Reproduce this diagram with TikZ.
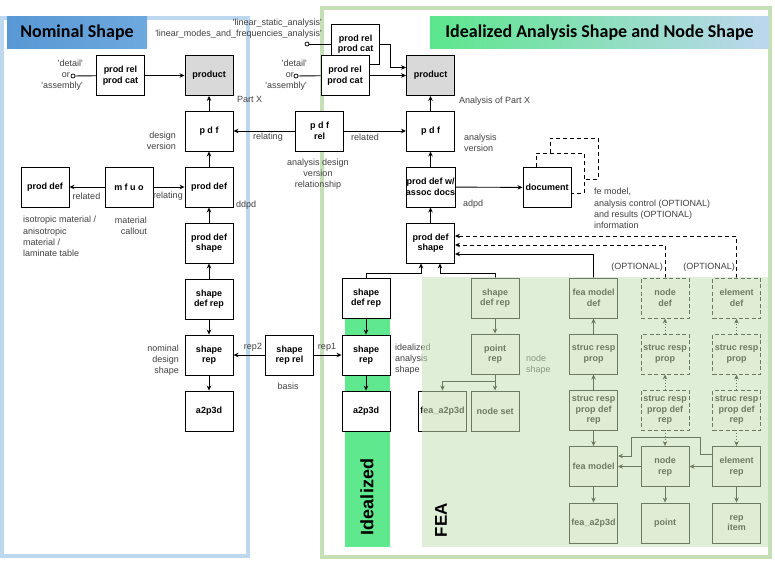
\documentclass[tikz,border=0pt]{standalone}
\usepackage{fontspec}
\setmainfont{Liberation Sans}
\newfontfamily\titlefont{Carlito}
\usetikzlibrary{arrows.meta}
\definecolor{nomblue}{RGB}{189,215,238}
\definecolor{nomtitle}{RGB}{88,152,212}
\definecolor{nomtitleb}{RGB}{110,168,222}
\definecolor{idgreen}{RGB}{197,224,180}
\definecolor{idtitle}{RGB}{92,230,140}
\definecolor{idcol}{RGB}{96,232,142}
\definecolor{feagreen}{RGB}{197,224,180}
\definecolor{prodgray}{RGB}{217,217,217}
\definecolor{lblgray}{RGB}{64,64,64}
\newcommand{\qt}[1]{\textquotesingle#1\textquotesingle}

\begin{document}
\begin{tikzpicture}[x=1pt,y=-1pt,
	box/.style={draw, line width=0.9pt, fill=white, minimum width=48pt, minimum height=40pt, inner sep=1pt, align=center, font=\fontsize{9}{10.5}\selectfont\bfseries},
	gbox/.style={box, fill=prodgray},
	dbox/.style={box, dash pattern=on 4pt off 2.5pt},
	lbl/.style={inner sep=0pt, text=lblgray, font=\fontsize{9}{11.2}\selectfont},
	arr/.style={-{Stealth[length=5pt,width=4.5pt]}, line width=0.9pt},
	darr/.style={arr, dotted},
	dline/.style={line width=0.9pt, dash pattern=on 4pt off 3pt},
	dotc/.style={circle, draw, fill=white, line width=0.7pt, inner sep=0pt, minimum size=4pt},
	ttl/.style={inner sep=0pt, minimum height=32pt, font=\titlefont\fontsize{18}{20}\selectfont\bfseries}]
	\useasboundingbox (0,0) rectangle (775,564);
	\draw [line width=4pt, nomblue] (2,18) rectangle (248,556);
	\draw [line width=4pt, idgreen] (322,8) rectangle (770,557);
	\node [ttl, minimum width=140pt, left color=nomtitle, right color=nomtitleb] (tnom) at (77,33) {Nominal Shape};
	\node [ttl, minimum width=339pt, left color=idtitle, right color=nomblue] (tideal) at (599.5,33) {Idealized Analysis Shape and Node Shape};
	\fill [idcol] (345,290) rectangle (390,547);

	\node [box] (nprodrel) at (120.5,75.5) {prod rel\\prod cat};
	\node [gbox] (nprod) at (209,75.5) {product};
	\node [box] (npdf) at (209,131) {p d f};
	\node [box] (nproddef) at (209,187) {prod def};
	\node [box] (nmfuo) at (129,187) {m f u o};
	\node [box] (nmatdef) at (45,187) {prod def};
	\node [box] (npds) at (209,243) {prod def\\shape};
	\node [box] (nsdr) at (209,299) {shape\\def rep};
	\node [box] (nsr) at (209,355) {shape\\rep};
	\node [box] (na2p3d) at (209,411) {a2p3d};
	\node [box] (nsrr) at (289.5,355) {shape\\rep rel};
	\node [box] (npdfrel) at (319.5,131) {p d f\\rel};

	\node [box] (iprodrelb) at (355.5,44) {prod rel\\prod cat};
	\node [box] (iprodrel) at (345,75.5) {prod rel\\prod cat};
	\node [gbox] (iprod) at (430.5,75.5) {product};
	\node [box] (ipdf) at (430.5,131) {p d f};
	\node [box, inner xsep=0pt] (ipdd) at (430.5,187) {prod def w/\\assoc docs};
	\node [box] (ndoc) at (547,187.5) {document};
	\node [box] (ipds) at (430.5,243) {prod def\\shape};
	\node [box] (isdr) at (366,298) {shape\\def rep};
	\node [box] (isr) at (366,355) {shape\\rep};
	\node [box] (ia2p3d) at (366,411) {a2p3d};

	\node [box] (fsdr) at (495,298) {shape\\def rep};
	\node [box] (fpr) at (495,354) {point\\rep};
	\node [box] (fa2p3d) at (442.5,411) {fea\_a2p3d};
	\node [box] (fns) at (495,411) {node set};
	\node [box] (ffmd) at (593.5,298) {fea model\\def};
	\node [box] (fsrp) at (593.5,354) {struc resp\\prop};
	\node [box] (fsrpdr) at (593.5,410) {struc resp\\prop def\\rep};
	\node [dbox] (fnd) at (665,298) {node\\def};
	\node [dbox] (fnsrp) at (665,354) {struc resp\\prop};
	\node [dbox] (fnsrpdr) at (665,410) {struc resp\\prop def\\rep};
	\node [dbox] (fed) at (736.5,298) {element\\def};
	\node [dbox] (fesrp) at (736.5,354) {struc resp\\prop};
	\node [dbox] (fesrpdr) at (736.5,410) {struc resp\\prop def\\rep};
	\node [box] (ffm) at (593.5,466.5) {fea model};
	\node [box] (fnr) at (665,466.5) {node\\rep};
	\node [box] (fer) at (736.5,466.5) {element\\rep};
	\node [box] (ffa2p3d) at (593.5,523) {fea\_a2p3d};
	\node [box] (fpt) at (665,523) {point};
	\node [box] (fri) at (736.5,523) {rep\\item};

	\node [lbl, align=right, anchor=east] (lsel) at (83,75) {\qt{detail}\\\mbox{or\hspace{13pt}}\\\qt{assembly}};
	\node [dotc] (ldot) at (73,76) {};
	\node [lbl, anchor=west] (lpartx) at (237,99) {Part X};
	\node [lbl, align=right, anchor=east] (ldesver) at (176,140.5) {design\\version};
	\node [lbl] (lrelated) at (86.5,196) {related};
	\node [lbl] (lrelating) at (168,196) {relating};
	\node [lbl, align=left, anchor=west] (lmat) at (23,236.5) {isotropic material /\\anisotropic\\material /\\laminate table};
	\node [lbl, align=right, anchor=east] (lcallout) at (147,225.5) {material\\callout};
	\node [lbl, anchor=west] (lddpd) at (236,205) {ddpd};
	\node [lbl, align=right, anchor=east] (lnomshape) at (179,360) {nominal\\design\\shape};
	\node [lbl] (lrep2) at (253,347) {rep2};
	\node [lbl] (lrep1) at (327,347) {rep1};
	\node [lbl] (lbasis) at (288,386) {basis};
	\node [lbl] (lpdfrelating) at (268,137) {relating};
	\node [lbl] (lpdfrelated) at (365,137) {related};
	\node [lbl, align=center] (ladvr) at (318,174) {analysis design\\version\\relationship};
	\node [lbl, align=right, anchor=east] (llinear) at (322,29) {\qt{linear\_static\_analysis}\\\qt{linear\_modes\_and\_frequencies\_analysis}};
	\node [dotc] (idotb) at (307,44) {};
	\node [lbl, align=right, anchor=east] (isel) at (307,75) {\qt{detail}\\\mbox{or\hspace{13pt}}\\\qt{assembly}};
	\node [dotc] (idot) at (296,76) {};
	\node [lbl, anchor=west] (lanpartx) at (459,101) {Analysis of Part X};
	\node [lbl, align=left, anchor=west] (lanver) at (464,142.5) {analysis\\version};
	\node [lbl, anchor=west] (ladpd) at (463,204) {adpd};
	\node [lbl, align=left, anchor=west] (lfemodel) at (594,208.5) {fe model,\\analysis control (OPTIONAL)\\and results (OPTIONAL)\\information};
	\node [lbl, anchor=east] (lopt1) at (663,267) {(OPTIONAL)};
	\node [lbl, anchor=east] (lopt2) at (735,267) {(OPTIONAL)};
	\node [lbl, align=left, anchor=west] (lidshape) at (395,359) {idealized\\analysis\\shape};
	\node [lbl, align=left, anchor=west] (lnodeshape) at (526,365) {node\\shape};

	\draw [line width=0.9pt] (ldot) -- (nprodrel);
	\draw [arr] (nprodrel) -- (nprod);
	\draw [arr] (npdf) -- (nprod);
	\draw [arr] (nproddef) -- (npdf);
	\draw [arr] (nmfuo) -- (nmatdef);
	\draw [arr] (nmfuo) -- (nproddef);
	\draw [arr] (npds) -- (nproddef);
	\draw [arr] (nsdr) -- (npds);
	\draw [arr] (nsdr) -- (nsr);
	\draw [arr] (nsr) -- (na2p3d);
	\draw [arr] (nsrr) -- (nsr);
	\draw [arr] (nsrr) -- (isr);
	\draw [arr] (npdfrel) -- (npdf);
	\draw [arr] (npdfrel) -- (ipdf);

	\draw [line width=0.9pt] (idotb) -- (iprodrelb);
	\draw [arr] (iprodrelb.east) -- ++(10,0) |- ([yshift=8pt]iprod.west);
	\draw [line width=0.9pt] (idot) -- (iprodrel);
	\draw [arr] (iprodrel) -- (iprod);
	\draw [arr] (ipdf) -- (iprod);
	\draw [arr] (ipdd) -- (ipdf);
	\draw [arr] (ipdd) -- (ndoc);
	\draw [arr] (ipds) -- (ipdd);
	\draw [dline] ([xshift=-11pt]ndoc.north) -- ++(0,-14) coordinate (dloop) -- ++(48,0) coordinate (dloopb) |- ([yshift=-6pt]ndoc.east);
	\draw [dline] ([xshift=14pt]dloop) -- ++(0,-15) -- ++(48,0) |- ([yshift=-26pt]dloopb);
	\draw [arr] (isdr.north) -- ++(0,-4) -| ([xshift=-9.5pt]ipds.south);
	\draw [arr] (isdr) -- (isr);
	\draw [arr] (isr) -- (ia2p3d);
	\draw [arr] (fsdr.north) -- ++(0,-4) -| ([xshift=9.5pt]ipds.south);
	\draw [arr] (ffmd.north) |- ([yshift=-11pt]ipds.east);
	\draw [arr, dline] (fnd.north) |- ([yshift=-2pt]ipds.east);
	\draw [arr, dline] (fed.north) |- ([yshift=7pt]ipds.east);

	\draw [arr] (fsdr) -- (fpr);
	\draw [arr] (fpr.south) -- ++(0,7) -| (fa2p3d.north);
	\draw [arr] (fpr) -- (fns);
	\draw [arr] (fsrpdr) -- (fsrp);
	\draw [arr] (fsrp) -- (ffmd);
	\draw [arr] (fsrpdr) -- (ffm);
	\draw [darr] (fnsrpdr) -- (fnsrp);
	\draw [darr] (fnsrp) -- (fnd);
	\draw [darr] (fnsrpdr) -- (fnr);
	\draw [darr] (fesrpdr) -- (fesrp);
	\draw [darr] (fesrp) -- (fed);
	\draw [darr] (fesrpdr) -- (fer);
	\draw [arr] (fnr) -- (ffm);
	\draw [arr] (fer) -- (fnr);
	\draw [arr] ([yshift=12.5pt]fer.west) -- ++(-12,0) -- ++(0,-17) -- ++(-69,0) |- ([yshift=10.5pt]ffm.east);
	\draw [arr] (ffm) -- (ffa2p3d);
	\draw [arr] (fnr) -- (fpt);
	\draw [arr] (fer) -- (fri);

	\fill [feagreen, opacity=0.55] (422,277) rectangle (768,547);
	\node [rotate=90, inner sep=0pt, font=\fontsize{18}{20}\selectfont\bfseries] (lideal) at (367,497) {Idealized};
	\node [rotate=90, inner sep=0pt, font=\fontsize{17}{20}\selectfont\bfseries] (lfea) at (441,520) {FEA};
\end{tikzpicture}
\end{document}
